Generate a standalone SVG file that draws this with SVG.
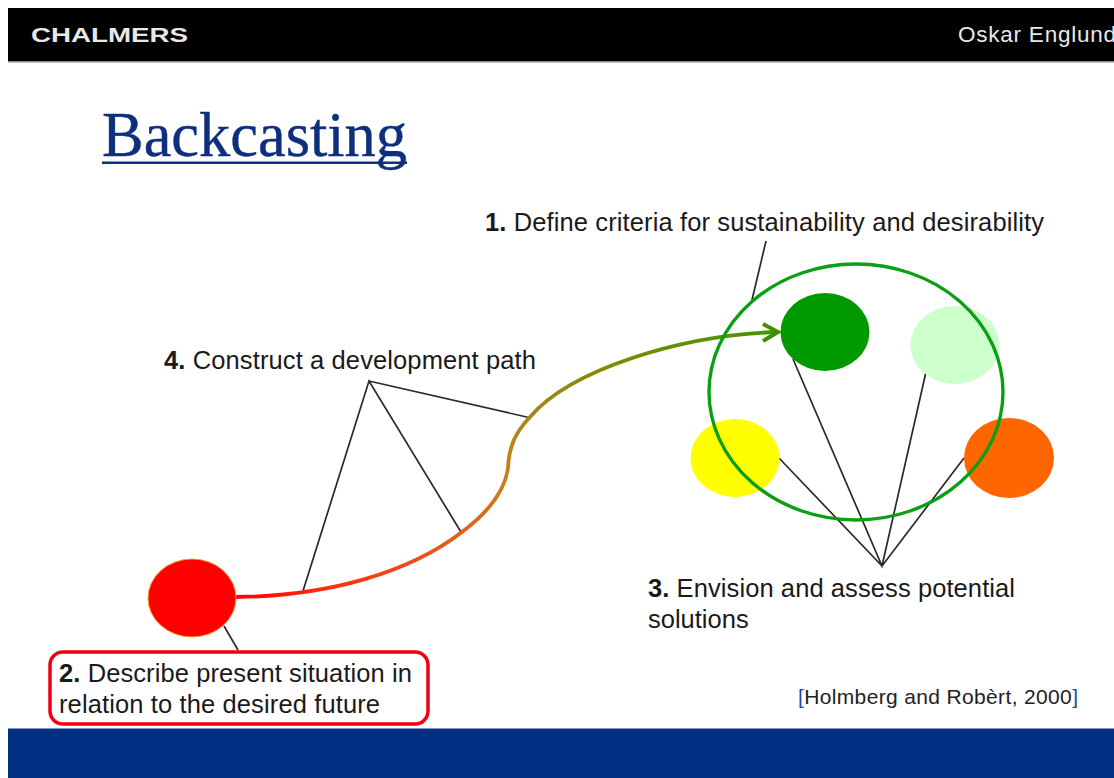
<svg xmlns="http://www.w3.org/2000/svg" width="1114" height="778" viewBox="0 0 1114 778">
<style>
.t{font-family:"Liberation Sans",Arial,sans-serif;font-size:25.500px;fill:#1a1a1a}
.b{font-weight:bold}
.l{stroke:#2a2a2a;stroke-width:1.700;fill:none}
</style>
<defs>
<linearGradient id="pathGrad" gradientUnits="userSpaceOnUse" x1="236" y1="597" x2="780" y2="332">
<stop offset="0" stop-color="#ff0000"/>
<stop offset="0.15" stop-color="#ff3010"/>
<stop offset="0.38" stop-color="#e0601a"/>
<stop offset="0.5" stop-color="#c8801a"/>
<stop offset="0.567" stop-color="#a8851a"/>
<stop offset="0.8" stop-color="#6a8f00"/>
<stop offset="1" stop-color="#3f9600"/>
</linearGradient>
</defs>
<rect width="1114" height="778" fill="#fff"/>
<g id="header">
<rect x="8" y="8" width="1106" height="54" fill="#000"/>
<rect x="8" y="61" width="1106" height="1.500" fill="#888"/>
<text x="31" y="42" font-family="'Liberation Sans',Arial,sans-serif" font-size="20" font-weight="bold" fill="#e8e8e8" textLength="157" lengthAdjust="spacingAndGlyphs">CHALMERS</text>
<text x="958" y="42" font-family="'Liberation Sans',Arial,sans-serif" font-size="22.500" fill="#e8e8e8" textLength="158" lengthAdjust="spacing">Oskar Englund</text>
</g>
<g id="footer"><rect x="8" y="728" width="1106" height="50" fill="#003082"/><rect x="8" y="728" width="1106" height="1" fill="#7f97c0"/></g>
<g id="title"><text x="102" y="156" font-family="'Liberation Serif','Times New Roman',serif" font-size="64" fill="#0e2f7e" stroke="#0e2f7e" stroke-width="0.400" textLength="305" lengthAdjust="spacingAndGlyphs">Backcasting</text><rect x="102" y="161.500" width="305" height="2.500" fill="#0e2f7e"/></g>
<g id="connectors">
<path class="l" d="M766 241L752 300"/>
<path class="l" d="M303 591L369 381L461 532M369 381L531 418"/>
<path class="l" d="M224 626L238 650"/>
<path class="l" d="M793 359L882 566L926 372M779 458L882 566L964 458"/>
<path d="M236 597C330 596 410 572 462 532C490 511 505 490 508 468C509 445 516 432 530 417C570 370 680 335 778 332" fill="none" stroke="url(#pathGrad)" stroke-width="3.800"/>
<path d="M763 324L778 332L763 341" fill="none" stroke="#3f9000" stroke-width="4"/>
</g>
<g id="node-light"><ellipse cx="955" cy="345" rx="44.500" ry="39" fill="#ccffcc"/></g>
<g id="node-green"><ellipse cx="825" cy="332" rx="44.500" ry="39" fill="#009900"/></g>
<g id="node-yellow"><ellipse cx="735" cy="458" rx="44.500" ry="39" fill="#ffff00"/></g>
<g id="node-orange"><ellipse cx="1009" cy="458" rx="45" ry="40" fill="#ff6600"/></g>
<g id="node-red"><ellipse cx="192" cy="598" rx="44" ry="39" fill="#ff0000" stroke="#ff9933" stroke-width="1"/></g>
<g id="criteria-ring"><ellipse cx="856" cy="392" rx="147" ry="128" fill="none" stroke="#0a9f14" stroke-width="3.400"/></g>
<g id="label-1"><text class="t" x="485" y="230.500" textLength="559" lengthAdjust="spacing"><tspan class="b">1.</tspan> Define criteria for sustainability and desirability</text></g>
<g id="label-4"><text class="t" x="164" y="368.500" textLength="372" lengthAdjust="spacing"><tspan class="b">4.</tspan> Construct a development path</text></g>
<g id="label-3"><text class="t" x="648" y="596.500" textLength="367" lengthAdjust="spacing"><tspan class="b">3.</tspan> Envision and assess potential</text><text class="t" x="648" y="627.500">solutions</text></g>
<g id="label-2"><rect x="50" y="652" width="378" height="72" rx="13" fill="#fff" stroke="#ee0011" stroke-width="3.500"/><text class="t" x="59" y="681.500" textLength="353" lengthAdjust="spacing"><tspan class="b">2.</tspan> Describe present situation in</text><text class="t" x="59" y="712.500" textLength="321" lengthAdjust="spacing">relation to the desired future</text></g>
<g id="citation"><text x="798" y="704" font-family="'Liberation Sans',Arial,sans-serif" font-size="21" fill="#222" textLength="280" lengthAdjust="spacing"><tspan fill="#1f4aa8">[</tspan>Holmberg and Robèrt, 2000<tspan fill="#1f4aa8">]</tspan></text></g>
</svg>
